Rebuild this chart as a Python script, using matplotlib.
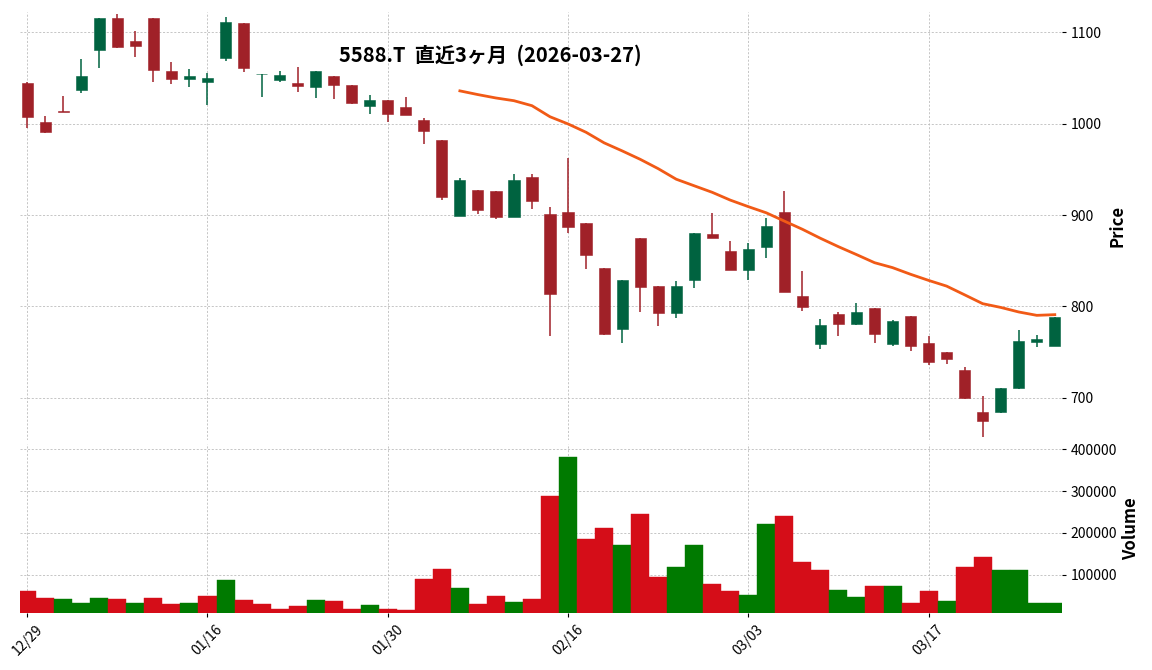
import matplotlib
matplotlib.use("Agg")
import matplotlib.pyplot as plt
import numpy as np
import pandas as pd

plt.rcParams['font.family'] = ['Noto Sans CJK JP', 'DejaVu Sans']

# ---------------------------
# data
# ---------------------------
dates = ["12/29", "12/30", "01/05", "01/06", "01/07", "01/08", "01/09", "01/13",
         "01/14", "01/15", "01/16", "01/19", "01/20", "01/21", "01/22", "01/23",
         "01/26", "01/27", "01/28", "01/29", "01/30", "02/02", "02/03", "02/04",
         "02/05", "02/06", "02/09", "02/10", "02/12", "02/13", "02/16", "02/17",
         "02/18", "02/19", "02/20", "02/24", "02/25", "02/26", "02/27", "03/02",
         "03/03", "03/04", "03/05", "03/06", "03/09", "03/10", "03/11", "03/12",
         "03/13", "03/16", "03/17", "03/18", "03/19", "03/23", "03/24", "03/25",
         "03/26", "03/27"]

opens = [1044.6, 1001.7, 1014.0, 1036.6, 1080.3, 1115.3, 1090.2, 1115.3, 1057.4, 1048.7,
         1045.7, 1072.0, 1109.8, 1053.8, 1048.0, 1044.3, 1040.3, 1052.3, 1042.0, 1019.5,
         1025.7, 1018.1, 1003.9, 982.0, 899.4, 927.4, 926.3, 898.3, 941.6, 901.2,
         903.4, 891.4, 842.2, 775.9, 875.0, 822.6, 793.4, 829.4, 879.4, 860.8,
         840.4, 865.5, 903.4, 811.6, 758.9, 791.7, 780.3, 798.5, 759.5, 789.8,
         760.3, 750.5, 730.8, 684.9, 684.2, 710.4, 761.7, 757.3]
highs = [1045.0, 1008.0, 1030.0, 1070.2, 1115.3, 1119.3, 1100.7, 1115.3, 1067.6, 1060.0,
         1055.0, 1116.0, 1110.0, 1054.2, 1057.7, 1062.0, 1057.4, 1052.3, 1042.0, 1030.9,
         1025.7, 1028.7, 1005.7, 982.0, 940.5, 927.4, 926.3, 944.9, 944.9, 908.8,
         962.0, 891.4, 842.2, 829.1, 875.0, 822.6, 827.7, 880.8, 902.0, 871.4,
         869.2, 897.2, 926.0, 838.6, 785.8, 793.9, 803.6, 798.5, 785.4, 789.8,
         767.2, 750.5, 733.8, 701.6, 711.1, 774.2, 768.7, 788.7]
lows = [994.8, 990.0, 1012.6, 1033.0, 1060.3, 1083.0, 1073.0, 1046.0, 1043.2, 1039.6,
        1020.3, 1068.3, 1056.6, 1028.7, 1045.0, 1034.0, 1027.6, 1026.5, 1021.5, 1010.1,
        1002.0, 1009.0, 977.3, 916.5, 899.4, 900.9, 895.4, 898.0, 906.3, 768.0,
        880.0, 840.8, 768.3, 760.0, 793.8, 778.9, 787.3, 820.0, 875.3, 840.0,
        828.8, 852.8, 816.0, 795.2, 753.7, 767.6, 780.0, 760.0, 756.7, 751.6,
        735.9, 737.0, 699.0, 657.6, 684.0, 710.0, 755.6, 757.0]
closes = [1007.5, 990.8, 1013.0, 1052.3, 1115.3, 1083.6, 1085.0, 1058.5, 1048.7, 1052.0,
          1049.4, 1110.9, 1061.0, 1054.2, 1053.0, 1041.4, 1057.4, 1042.4, 1022.8, 1025.7,
          1010.1, 1009.7, 991.5, 919.4, 938.3, 905.9, 898.3, 938.3, 915.7, 813.1,
          887.3, 856.8, 770.1, 829.1, 821.8, 793.4, 822.6, 880.8, 875.3, 840.4,
          863.0, 888.1, 816.3, 799.3, 779.6, 780.3, 794.2, 769.8, 784.3, 756.3,
          738.8, 742.1, 699.5, 674.3, 711.1, 762.5, 764.7, 788.7]
volumes = [60000, 43200, 40800, 31200, 43200, 40800, 31200, 43200, 28800, 31200,
           48000, 86400, 38400, 28800, 16800, 24000, 38400, 36000, 16800, 26400,
           16800, 14400, 88800, 112800, 67200, 28800, 48000, 33600, 40800, 288000,
           381600, 184800, 211200, 170400, 244800, 93600, 117600, 170400, 76800, 60000,
           50400, 220800, 240000, 129600, 110400, 62400, 45600, 72000, 72000, 31200,
           60000, 36000, 117600, 141600, 110400, 110400, 31200, 31200]

title = "5588.T  直近3ヶ月  (2026-03-27)"
ma_window = 25

# ---------------------------
# styling (mplfinance "charles"-like)
# ---------------------------
UP, DOWN = "#006340", "#a02128"
VUP, VDOWN = "#007a00", "#d50d18"
MA_COLOR = "#f15a16"
GRID = dict(color="#bdbdbd", linestyle=(0, (2.5, 2)), linewidth=0.6)

o = np.array(opens)
h = np.array(highs)
l = np.array(lows)
c = np.array(closes)
v = np.array(volumes)
x = np.arange(len(c))

fig = plt.figure(figsize=(11.52, 6.70), dpi=100)
ax = fig.add_axes([20 / 1152, 1 - 440 / 670, 1042 / 1152, 428 / 670])
axv = fig.add_axes([20 / 1152, 1 - 613 / 670, 1042 / 1152, 169 / 670], sharex=ax)

# candles
up = c >= o
ccol = np.where(up, UP, DOWN)
ax.vlines(x, l, h, colors=ccol, linewidth=1.1, zorder=2)
body_lo = np.minimum(o, c)
body_h = np.maximum(np.abs(c - o), 0.6)
ax.bar(x, body_h, bottom=body_lo, width=0.62, color=ccol, edgecolor=ccol,
       linewidth=0.4, zorder=3)

# moving average
ma = pd.Series(c).rolling(ma_window).mean()
ax.plot(x, ma, color=MA_COLOR, linewidth=2.0, zorder=4)

# volume, coloured by close vs previous close
prev = np.concatenate([[o[0]], c[:-1]])
vcol = np.where(c > prev, VUP, VDOWN)
axv.bar(x, v, width=1.0, color=vcol, edgecolor=vcol, linewidth=0.3, zorder=2)

# axes cosmetics
tick_idx = list(range(0, len(dates), 10))
for a in (ax, axv):
    for s in a.spines.values():
        s.set_visible(False)
    a.yaxis.tick_right()
    a.yaxis.set_label_position("right")
    a.grid(True, **GRID)
    a.set_axisbelow(True)
    a.tick_params(axis="y", labelsize=10, length=3, width=0.8, pad=3)
    a.tick_params(axis="x", length=3, width=0.8)

ax.set_xlim(-0.4, len(c) - 0.6)
ax.set_ylim(654, 1122)
ax.set_yticks([700, 800, 900, 1000, 1100])
ax.set_ylabel("Price", fontsize=12, fontweight="bold", labelpad=5)
ax.tick_params(axis="x", bottom=False, labelbottom=False)

axv.set_ylim(8000, 413000)
axv.set_yticks([100000, 200000, 300000, 400000])
axv.set_yticklabels(["100000", "200000", "300000", "400000"])
axv.set_ylabel("Volume", fontsize=12, fontweight="bold", labelpad=4)
axv.set_xticks(tick_idx)
axv.set_xticklabels([dates[i] for i in tick_idx], rotation=45, ha="center", fontsize=10)

fig.text(490 / 1152, 1 - 55 / 670, title, ha="center", va="center",
         fontsize=14.5, fontweight="bold")

fig.savefig("out.png", dpi=100)
